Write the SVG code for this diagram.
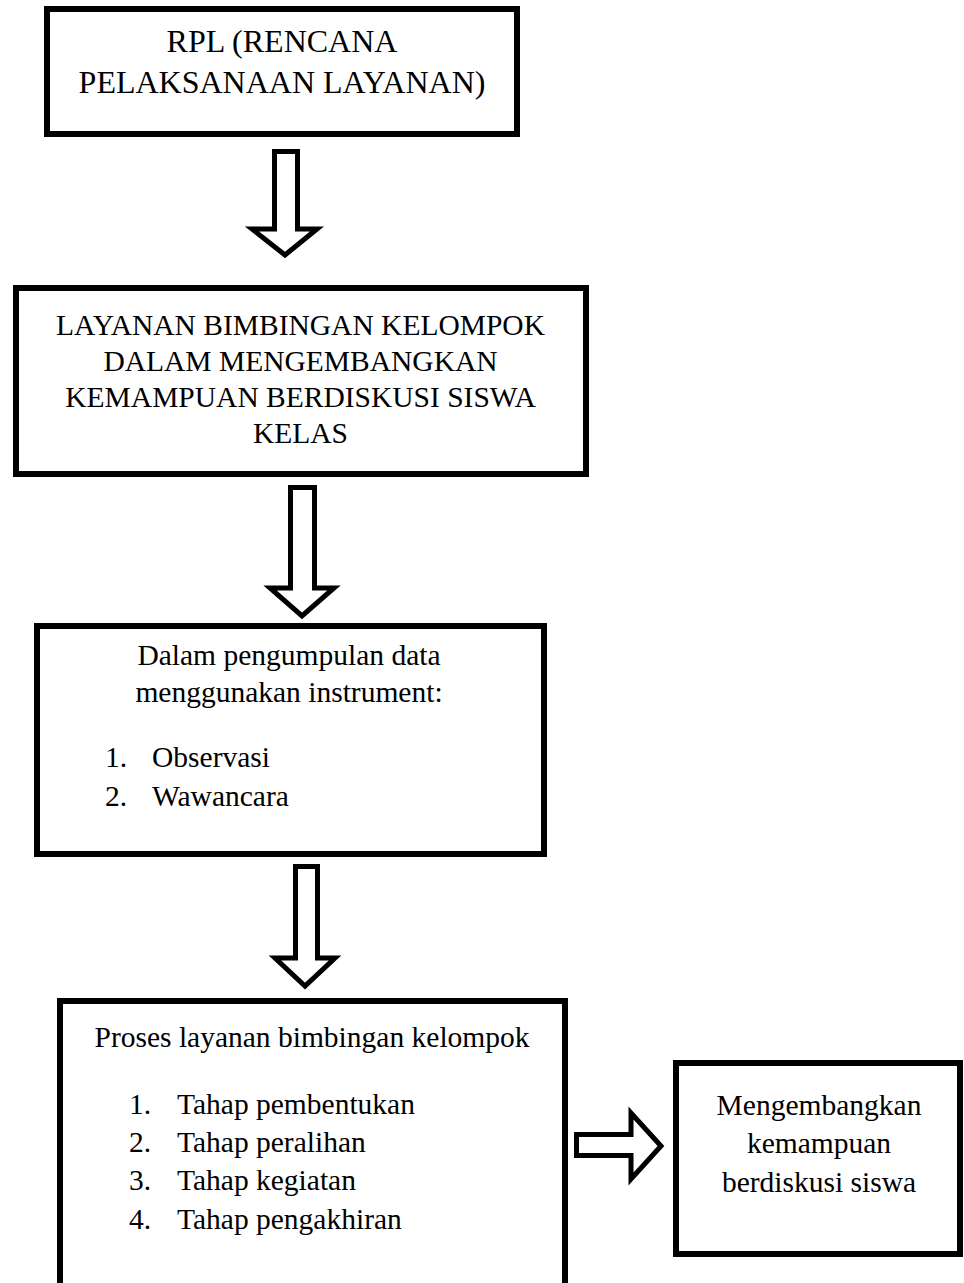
<svg xmlns="http://www.w3.org/2000/svg" width="964" height="1283" viewBox="0 0 964 1283">
<style>
.box{fill:#fff;stroke:#000;stroke-width:6}
.arr{fill:#fff;stroke:#000;stroke-width:5;stroke-linejoin:miter}
text{font-family:"Liberation Serif","Times New Roman",serif;font-size:29.5px;fill:#000}
.c{text-anchor:middle}
.big{font-size:32px}
</style>
<rect width="964" height="1283" fill="#fff"/>
<g id="connectors">
<path class="arr" d="M274.5,151.5 H297.5 V229 H317 L285,255 L252,229 H274.5 Z"/>
<path class="arr" d="M290.5,487.5 H314.5 V588 H334 L302,616 L270,588 H290.5 Z"/>
<path class="arr" d="M295.5,866.5 H317.5 V958 H335 L305,986 L275,958 H295.5 Z"/>
<path class="arr" d="M576.5,1134.5 H631 V1113 L661,1146 L631,1179 V1155.5 H576.5 Z"/>
</g>
<g id="rpl">
<rect class="box" x="47" y="9" width="470" height="125"/>
<text class="c big" x="282" y="52">RPL (RENCANA</text>
<text class="c big" x="282" y="93">PELAKSANAAN LAYANAN)</text>
</g>
<g id="layanan">
<rect class="box" x="16" y="288" width="570" height="186"/>
<text class="c" x="300.5" y="335">LAYANAN BIMBINGAN KELOMPOK</text>
<text class="c" x="300.5" y="371">DALAM MENGEMBANGKAN</text>
<text class="c" x="300.5" y="407">KEMAMPUAN BERDISKUSI SISWA</text>
<text class="c" x="300.5" y="443">KELAS</text>
</g>
<g id="pengumpulan">
<rect class="box" x="37" y="626" width="507" height="228"/>
<text class="c" x="289" y="665">Dalam pengumpulan data</text>
<text class="c" x="289" y="702">menggunakan instrument:</text>
<text x="105" y="767">1.</text>
<text x="152" y="767">Observasi</text>
<text x="105" y="806">2.</text>
<text x="152" y="806">Wawancara</text>
</g>
<g id="proses">
<rect class="box" x="60" y="1001" width="505" height="400"/>
<text class="c" x="312" y="1047">Proses layanan bimbingan kelompok</text>
<text x="129" y="1114">1.</text>
<text x="177" y="1114">Tahap pembentukan</text>
<text x="129" y="1152">2.</text>
<text x="177" y="1152">Tahap peralihan</text>
<text x="129" y="1190">3.</text>
<text x="177" y="1190">Tahap kegiatan</text>
<text x="129" y="1229">4.</text>
<text x="177" y="1229">Tahap pengakhiran</text>
</g>
<g id="hasil">
<rect class="box" x="676" y="1063" width="284" height="191"/>
<text class="c" x="819" y="1115">Mengembangkan</text>
<text class="c" x="819" y="1153">kemampuan</text>
<text class="c" x="819" y="1192">berdiskusi siswa</text>
</g>
</svg>
